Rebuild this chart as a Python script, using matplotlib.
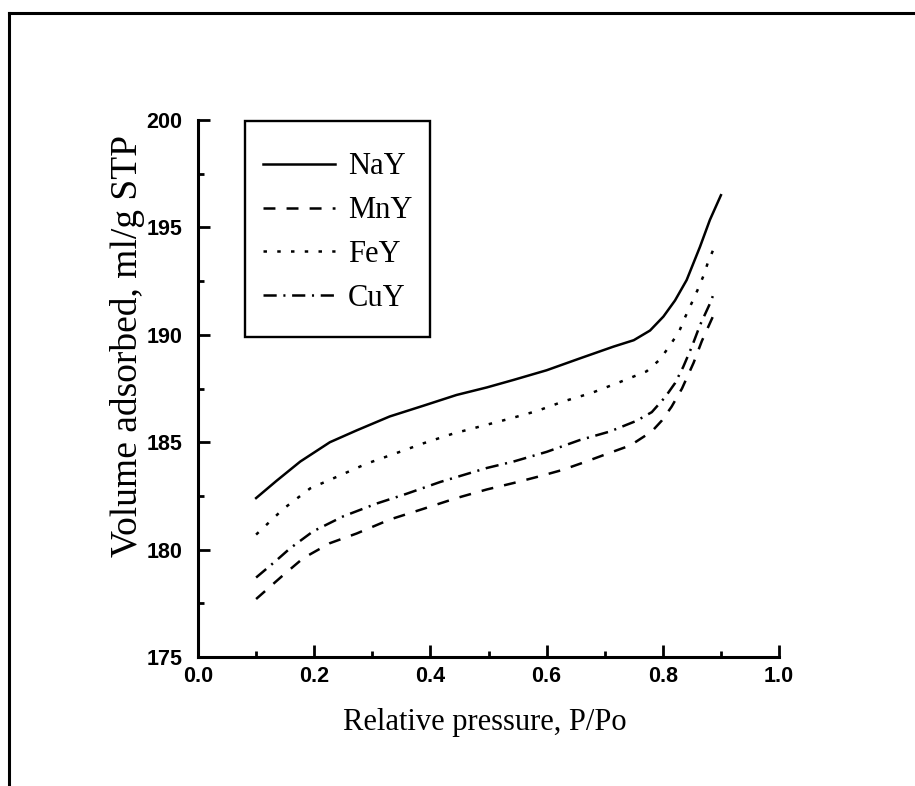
import matplotlib
matplotlib.use("Agg")
import matplotlib.pyplot as plt
from matplotlib.lines import Line2D
from matplotlib.patches import Rectangle
from matplotlib.ticker import MultipleLocator, FormatStrFormatter

# ---------------- data ----------------
nay_x = [0.10, 0.135, 0.176, 0.227, 0.273, 0.330, 0.388, 0.445, 0.497, 0.543, 0.600,
         0.657, 0.715, 0.750, 0.778, 0.801, 0.821, 0.841, 0.864, 0.881, 0.900]
nay_y = [182.4, 183.2, 184.1, 185.0, 185.55, 186.2, 186.7, 187.2, 187.55, 187.9, 188.35,
         188.9, 189.45, 189.75, 190.2, 190.85, 191.6, 192.55, 194.1, 195.35, 196.5]

mny_x = [0.10, 0.144, 0.181, 0.227, 0.273, 0.330, 0.388, 0.445, 0.497, 0.543, 0.586,
         0.626, 0.663, 0.703, 0.744, 0.781, 0.798, 0.815, 0.833, 0.853, 0.867, 0.887, 0.890]
mny_y = [177.7, 178.75, 179.6, 180.3, 180.75, 181.4, 181.9, 182.4, 182.8, 183.1, 183.4,
         183.7, 184.05, 184.45, 184.85, 185.5, 186.0, 186.65, 187.5, 188.7, 189.7, 190.9, 191.0]

fey_x = [0.10, 0.147, 0.193, 0.244, 0.290, 0.342, 0.388, 0.439, 0.488, 0.537, 0.583,
         0.629, 0.678, 0.726, 0.772, 0.795, 0.812, 0.828, 0.838, 0.850, 0.860, 0.870, 0.878, 0.889]
fey_y = [180.7, 181.9, 182.85, 183.45, 184.0, 184.5, 184.95, 185.4, 185.75, 186.1, 186.45,
         186.9, 187.3, 187.8, 188.3, 188.85, 189.5, 190.15, 190.8, 191.5, 192.1, 192.75, 193.4, 194.1]

cuy_x = [0.10, 0.135, 0.158, 0.198, 0.250, 0.308, 0.359, 0.417, 0.497, 0.543, 0.600,
         0.657, 0.709, 0.755, 0.781, 0.804, 0.821, 0.835, 0.850, 0.864, 0.881, 0.886]
cuy_y = [178.7, 179.5, 180.05, 180.85, 181.55, 182.15, 182.6, 183.15, 183.8, 184.1, 184.55,
         185.1, 185.5, 186.0, 186.4, 187.1, 187.75, 188.5, 189.45, 190.45, 191.45, 191.8]

labels = ["NaY", "MnY", "FeY", "CuY"]
x_label = "Relative pressure, P/Po"
y_label = "Volume adsorbed, ml/g STP"

# ---------------- styling ----------------
plt.rcParams['lines.scale_dashes'] = False
serif = ['Liberation Serif', 'DejaVu Serif']
sans = ['Liberation Sans', 'DejaVu Sans']

fig = plt.figure(figsize=(9.15, 7.86), dpi=100)
ax = fig.add_axes([0.2164, 0.1641, 0.635, 0.6832])

lw = 1.8
ax.plot(nay_x, nay_y, color='black', lw=lw, linestyle='-', label=labels[0])
ax.plot(mny_x, mny_y, color='black', lw=lw, linestyle=(0, (8.6, 8.0)), label=labels[1])
ax.plot(fey_x, fey_y, color='black', lw=lw, linestyle=(0, (2.5, 7.4)), label=labels[2])
ax.plot(cuy_x, cuy_y, color='black', lw=lw, linestyle=(0, (9.5, 4.8, 1.5, 4.8)), label=labels[3])

ax.set_xlim(0.0, 1.0)
ax.set_ylim(175, 200)
ax.xaxis.set_major_locator(MultipleLocator(0.2))
ax.xaxis.set_minor_locator(MultipleLocator(0.1))
ax.yaxis.set_major_locator(MultipleLocator(5))
ax.yaxis.set_minor_locator(MultipleLocator(2.5))
ax.xaxis.set_major_formatter(FormatStrFormatter('%.1f'))
ax.yaxis.set_major_formatter(FormatStrFormatter('%d'))

for side in ['top', 'right']:
    ax.spines[side].set_visible(False)
for side in ['left', 'bottom']:
    ax.spines[side].set_linewidth(2.2)

ax.tick_params(which='major', direction='in', length=8.5, width=2.0, top=False, right=False)
ax.tick_params(which='minor', direction='in', length=4.5, width=2.0, top=False, right=False)
ax.tick_params(axis='y', which='major', pad=11)
ax.tick_params(axis='x', which='major', pad=6.5)
for t in ax.get_xticklabels() + ax.get_yticklabels():
    t.set_fontfamily(sans)
    t.set_fontsize(15.5)
    t.set_fontweight('bold')

ax.set_xlabel(x_label, fontfamily=serif, fontsize=22)
ax.set_ylabel(y_label, fontfamily=serif, fontsize=27)
ax.xaxis.set_label_coords(0.494, -0.095)
ax.yaxis.set_label_coords(-0.092, 0.58)

# legend entries (no frame) plus a separate box drawn around them
leg = ax.legend(loc='upper left', bbox_to_anchor=(0.112, 0.940), borderaxespad=0,
                frameon=False, borderpad=0,
                prop={'family': serif, 'size': 22}, handlelength=2.35,
                handletextpad=0.43, labelspacing=0.49)
ax.add_patch(Rectangle((0.081, 0.596), 0.318, 0.402, transform=ax.transAxes,
                       fill=False, edgecolor='black', lw=1.7, zorder=5, clip_on=False))

# outer frame (left and top edges only)
fig.add_artist(Line2D([0.0093, 0.0093], [0.0, 0.9835], transform=fig.transFigure,
                      color='black', lw=2.2))
fig.add_artist(Line2D([0.0093, 1.0], [0.9835, 0.9835], transform=fig.transFigure,
                      color='black', lw=2.2))

fig.savefig('out.png', dpi=100)
